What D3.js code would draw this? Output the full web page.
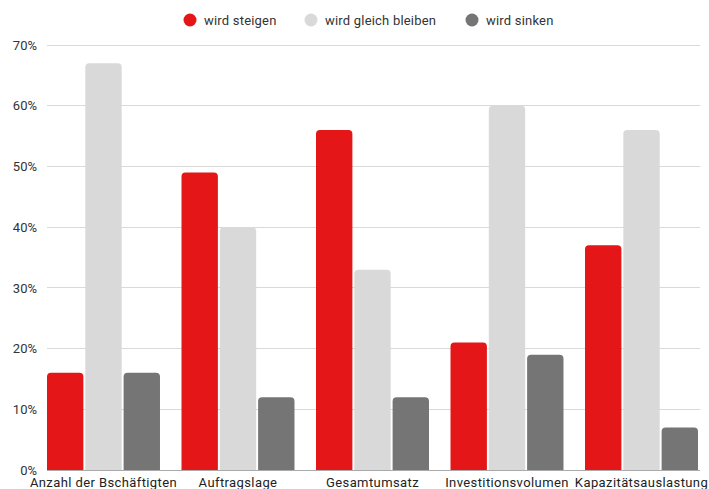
<!DOCTYPE html>
<html><head><meta charset="utf-8">
<script src="https://cdn.jsdelivr.net/npm/d3@7"></script>
<style>body{margin:0;background:#fff}svg{display:block;font-family:Roboto,"DejaVu Sans",sans-serif}</style>
</head><body><svg id="c" width="709" height="489"></svg>
<script>
const categories = ["Anzahl der Bschäftigten","Auftragslage","Gesamtumsatz","Investitionsvolumen","Kapazitätsauslastung"];
const seriesNames = ["wird steigen","wird gleich bleiben","wird sinken"];
const steigen = [16,49,56,21,37];
const gleich = [67,40,33,60,56];
const sinken = [16,12,12,19,7];
const yTicks = [0,10,20,30,40,50,60,70];
const colors = ["#e41617","#d9d9d9","#757575"];

const series = [steigen, gleich, sinken];
const svg = d3.select("#c");
const x0 = d3.scaleBand().domain(categories).range([47,698]).paddingInner(0.16).paddingOuter(0);
const x1 = d3.scaleBand().domain(seriesNames).range([0,x0.bandwidth()]).paddingInner(0.05);
const y = d3.scaleLinear().domain([0,70]).range([470,45]);

// grid
svg.append("g").selectAll("line").data(yTicks).join("line")
  .attr("x1",47).attr("x2",700).attr("y1",d=>y(d)).attr("y2",d=>y(d))
  .attr("stroke","#d9d9d9").attr("stroke-width",1).attr("shape-rendering","crispEdges");

const yAxis = d3.axisLeft(y).tickValues(yTicks).tickFormat(d=>d+"%").tickSize(0).tickPadding(10);
const ga = svg.append("g").attr("transform","translate(47,0)").call(yAxis);
ga.select(".domain").remove();
ga.selectAll("text").attr("font-size",13).attr("fill","#333").attr("font-family","Roboto, sans-serif");

function topRounded(x,yTop,w,h,r){
  r=Math.min(r,h,w/2);
  return `M${x},${yTop+h}V${yTop+r}Q${x},${yTop} ${x+r},${yTop}H${x+w-r}Q${x+w},${yTop} ${x+w},${yTop+r}V${yTop+h}Z`;
}

series.forEach((vals,si)=>{
  svg.append("g").selectAll("path").data(vals).join("path")
    .attr("fill",colors[si])
    .attr("d",(v,i)=>topRounded(x0(categories[i])+x1(seriesNames[si]), y(v), x1.bandwidth(), y(0)-y(v), 4));
});

// baseline
svg.append("line").attr("x1",47).attr("x2",700).attr("y1",470.5).attr("y2",470.5).attr("stroke","#aaa");

const xAxis = d3.axisBottom(x0).tickSize(0).tickPadding(8);
const gx = svg.append("g").attr("transform","translate(0,470)").call(xAxis);
gx.select(".domain").remove();
gx.selectAll("text").attr("font-size",13).attr("letter-spacing","0.4px").attr("fill","#222").attr("font-family","Roboto, sans-serif");

// legend
const legX = [190,311,472];
const lg = svg.append("g").selectAll("g").data(seriesNames).join("g")
  .attr("transform",(d,i)=>`translate(${legX[i]},20)`);
lg.append("circle").attr("r",6.5).attr("fill",(d,i)=>colors[i]);
lg.append("text").attr("x",14).attr("dy","0.35em").attr("font-size",13).attr("letter-spacing","0.2px").attr("fill","#333").text(d=>d);
</script></body></html>
